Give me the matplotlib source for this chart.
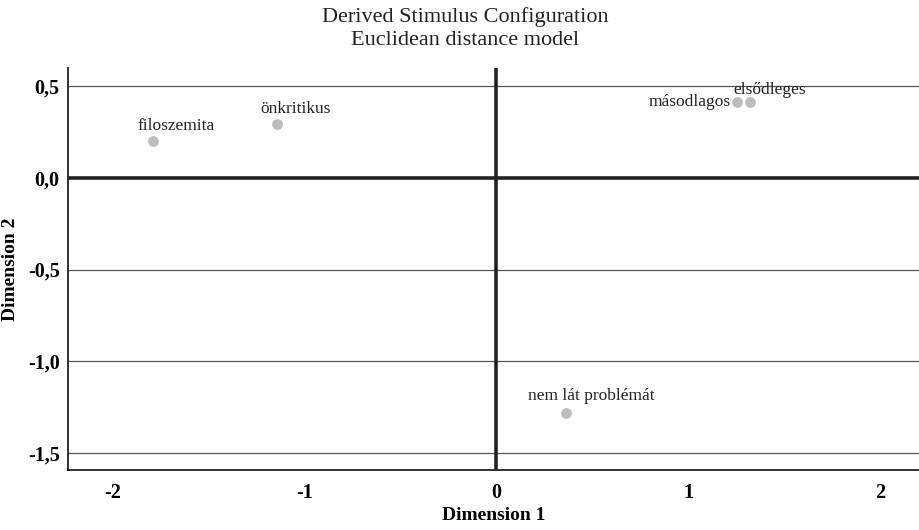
import matplotlib
matplotlib.use("Agg")
import matplotlib.pyplot as plt

plt.rcParams['font.family'] = ['Liberation Serif', 'DejaVu Serif']

# stimulus coordinates
labels = ['filoszemita', 'önkritikus', 'másodlagos', 'elsődleges', 'nem lát problémát']
dim1 = [-1.79, -1.14, 1.25, 1.32, 0.36]
dim2 = [0.20, 0.29, 0.41, 0.41, -1.28]

x_ticks = [-2, -1, 0, 1, 2]
y_ticks = [0.5, 0.0, -0.5, -1.0, -1.5]
y_tick_labels = ['0,5', '0,0', '-0,5', '-1,0', '-1,5']

# label offsets in points (dx, dy, ha, va)
label_pos = {
    'filoszemita': (-11, 5, 'left', 'bottom'),
    'önkritikus': (-12, 5, 'left', 'bottom'),
    'másodlagos': (-4, 0, 'right', 'center'),
    'elsődleges': (-12, 3, 'left', 'bottom'),
    'nem lát problémát': (-27, 6, 'left', 'bottom'),
}

fig = plt.figure(figsize=(9.19, 5.30), dpi=100)
ax = fig.add_axes([0.074, 0.113, 0.926, 0.759])

ax.set_xlim(-2.23, 2.2)
ax.set_ylim(-1.592, 0.598)

for y in y_ticks:
    if y == 0:
        ax.axhline(y, color='#222222', lw=2.6, zorder=1)
    else:
        ax.axhline(y, color='#555555', lw=0.9, zorder=1)
ax.axvline(0, color='#222222', lw=2.6, zorder=1)

ax.scatter(dim1, dim2, s=60, color='#bdbdbd', zorder=3, linewidths=0)
for name, x, y in zip(labels, dim1, dim2):
    dx, dy, ha, va = label_pos[name]
    ax.annotate(name, (x, y), xytext=(dx, dy), textcoords='offset points',
                ha=ha, va=va, fontsize=12.5, color='#222222')

ax.set_xticks(x_ticks)
ax.set_xticklabels([str(t) for t in x_ticks])
ax.set_yticks(y_ticks)
ax.set_yticklabels(y_tick_labels)
ax.tick_params(length=0, labelsize=14.5)
for lab in ax.get_xticklabels() + ax.get_yticklabels():
    lab.set_fontweight('bold')
ax.tick_params(axis='x', pad=9)
ax.tick_params(axis='y', pad=6)

for side in ['top', 'right']:
    ax.spines[side].set_visible(False)
ax.spines['left'].set_color('#222222')
ax.spines['bottom'].set_color('#222222')
ax.spines['left'].set_linewidth(1.3)
ax.spines['bottom'].set_linewidth(1.3)

ax.set_xlabel('Dimension 1', fontsize=14, fontweight='bold', labelpad=3)
ax.set_ylabel('Dimension 2', fontsize=14, fontweight='bold', labelpad=6)

fig.text(0.506, 0.967, 'Derived Stimulus Configuration', ha='center', va='center',
         fontsize=16, color='#222222')
fig.text(0.506, 0.924, 'Euclidean distance model', ha='center', va='center',
         fontsize=16, color='#222222')

fig.savefig('out.png', dpi=100)
